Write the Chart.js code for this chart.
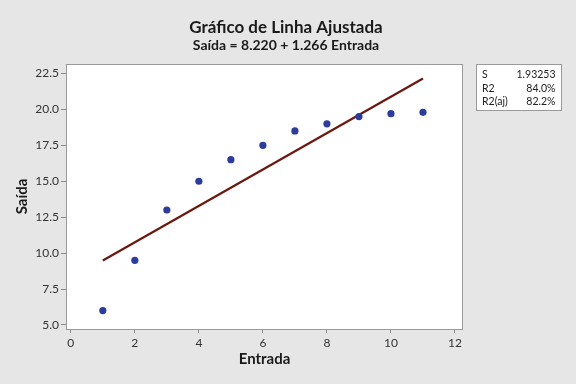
<!DOCTYPE html>
<html><head><meta charset="utf-8">
<script src="https://cdn.jsdelivr.net/npm/chart.js@4/dist/chart.umd.min.js"></script>
<style>html,body{margin:0;padding:0;background:#e6e6e6;}canvas{display:block}</style>
</head><body>
<canvas id="c" width="576" height="384"></canvas>
<script>
const entrada = [1, 2, 3, 4, 5, 6, 7, 8, 9, 10, 11];
const saida = [6.0, 9.5, 13.0, 15.0, 16.5, 17.5, 18.5, 19.0, 19.5, 19.7, 19.8];
const fitX = [1, 11];
const fitY = [9.49, 22.15];
const xTicks = [0, 2, 4, 6, 8, 10, 12];
const yTicks = [5.0, 7.5, 10.0, 12.5, 15.0, 17.5, 20.0, 22.5];
const statLabels = ['S', 'R2', 'R2(aj)'];
const statValues = ['1.93253', '84.0%', '82.2%'];
const titleText = 'Gráfico de Linha Ajustada';
const subtitleText = 'Saída = 8.220 + 1.266 Entrada';
const xTitle = 'Entrada';
const yTitle = 'Saída';

const FONT = "'Lato', 'Noto Sans', sans-serif";

const decor = {
  id: 'decor',
  beforeDraw(chart) {
    const ctx = chart.ctx, a = chart.chartArea;
    ctx.save();
    ctx.fillStyle = '#e6e6e6';
    ctx.fillRect(0, 0, chart.width, chart.height);
    ctx.fillStyle = '#ffffff';
    ctx.fillRect(a.left, a.top, a.right - a.left, a.bottom - a.top);
    ctx.restore();
  },
  afterDraw(chart) {
    const ctx = chart.ctx, a = chart.chartArea;
    ctx.save();
    ctx.strokeStyle = '#9a9a9a';
    ctx.lineWidth = 1;
    ctx.strokeRect(Math.round(a.left) + 0.5, Math.round(a.top) + 0.5,
      Math.round(a.right - a.left) - 1, Math.round(a.bottom - a.top));
    // titles
    ctx.fillStyle = '#1a1a1a';
    ctx.textAlign = 'center';
    ctx.textBaseline = 'alphabetic';
    ctx.font = "bold 17px " + FONT;
    ctx.fillText(titleText, 286, 33);
    ctx.font = "bold 14px " + FONT;
    ctx.fillText(subtitleText, 286, 49.5);
    // stats box
    const bx = 476.5, by = 64.5, bw = 85, bh = 46;
    ctx.fillStyle = '#ffffff';
    ctx.fillRect(bx, by, bw, bh);
    ctx.strokeStyle = '#9a9a9a';
    ctx.strokeRect(bx, by, bw, bh);
    ctx.fillStyle = '#222';
    ctx.font = "10.5px " + FONT;
    const base = [77.5, 91.5, 105];
    statLabels.forEach((l, i) => {
      ctx.textAlign = 'left';
      ctx.fillText(l, 482, base[i]);
      ctx.textAlign = 'right';
      ctx.fillText(statValues[i], 555.5, base[i]);
    });
    ctx.restore();
  }
};

new Chart(document.getElementById('c'), {
  type: 'scatter',
  data: {
    datasets: [
      {
        type: 'line',
        data: fitX.map((x, i) => ({x: x, y: fitY[i]})),
        borderColor: '#6a1810',
        borderWidth: 2.2,
        pointRadius: 0,
        fill: false,
        order: 2
      },
      {
        data: entrada.map((x, i) => ({x: x, y: saida[i]})),
        backgroundColor: '#2c3c9c',
        borderColor: '#2c3c9c',
        pointRadius: 3.6,
        borderWidth: 0,
        order: 1
      }
    ]
  },
  plugins: [decor],
  options: {
    responsive: false,
    animation: false,
    devicePixelRatio: 1,
    layout: {padding: {left: 0, top: 64, right: 113, bottom: 16}},
    plugins: {legend: {display: false}, tooltip: {enabled: false}},
    scales: {
      x: {
        type: 'linear',
        min: -0.15, max: 12.25,
        afterBuildTicks(s) { s.ticks = xTicks.map(v => ({value: v})); },
        afterFit(s) { s.height = 39; s.paddingLeft = 0; s.paddingRight = 0; },
        ticks: {color: '#333', font: {family: FONT, size: 12}, padding: 3,
          callback: v => String(v), maxRotation: 0},
        grid: {drawOnChartArea: false, drawTicks: true, tickLength: 4, color: '#8a8a8a'},
        border: {display: false},
        title: {display: true, text: xTitle, color: '#1a1a1a',
          font: {family: FONT, size: 15, weight: 'bold'}, padding: 0}
      },
      y: {
        type: 'linear',
        min: 4.72, max: 23.16,
        afterBuildTicks(s) { s.ticks = yTicks.map(v => ({value: v})); },
        afterFit(s) { s.width = 66; s.paddingTop = 0; s.paddingBottom = 0; },
        ticks: {color: '#333', font: {family: FONT, size: 12}, padding: 2,
          callback: v => Number(v).toFixed(1)},
        grid: {drawOnChartArea: false, drawTicks: true, tickLength: 5, color: '#8a8a8a'},
        border: {display: false},
        title: {display: true, text: yTitle, color: '#1a1a1a',
          font: {family: FONT, size: 15, weight: 'bold'}, padding: {top: 13, bottom: 0}}
      }
    }
  }
});
</script>
</body></html>
